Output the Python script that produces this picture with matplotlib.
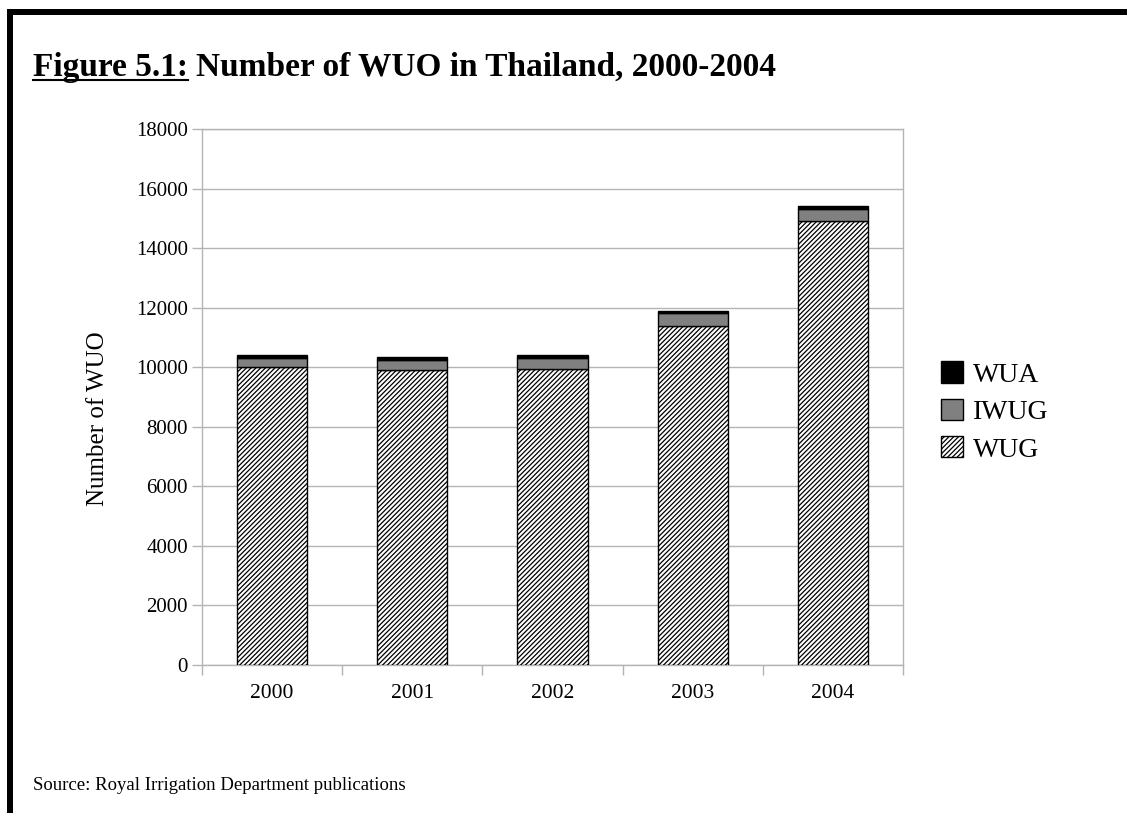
import numpy as np
import matplotlib
matplotlib.use("Agg")
import matplotlib.pyplot as plt
from matplotlib.patches import Patch, Rectangle
from matplotlib.lines import Line2D

# Water user organisations by type, 2000-2004
years = ["2000", "2001", "2002", "2003", "2004"]
wug = [10000, 9910, 9930, 11380, 14920]
iwug = [310, 325, 380, 430, 390]
wua = [110, 100, 100, 70, 110]

plt.rcParams["font.family"] = ["Liberation Serif", "DejaVu Serif"]
plt.rcParams["hatch.linewidth"] = 0.9
plt.rcParams["hatch.color"] = "#222222"

fig = plt.figure(figsize=(11.27, 8.13), dpi=100)
ax = fig.add_axes([202 / 1127, 1 - 665 / 813, 701 / 1127, 536 / 813])

x = np.arange(len(years))
w = 0.5
wug = np.array(wug)
iwug = np.array(iwug)
wua = np.array(wua)
hatch = "///////"

ax.bar(x, wug, w, color="white", edgecolor="black", hatch=hatch, linewidth=1, zorder=3)
ax.bar(x, iwug, w, bottom=wug, color="#808080", edgecolor="black", linewidth=1, zorder=3)
ax.bar(x, wua, w, bottom=wug + iwug, color="black", edgecolor="black", linewidth=1, zorder=3)

ax.set_xlim(-0.5, len(years) - 0.5)
ax.set_ylim(0, 18000)
ax.set_yticks(np.arange(0, 18001, 2000))
ax.yaxis.grid(True, color="#b4b4b4", linewidth=1, zorder=0)
ax.set_axisbelow(True)

# category labels centred, tick marks between categories
ax.set_xticks(x)
ax.set_xticklabels(years, fontsize=15.5)
ax.set_xticks(np.arange(-0.5, len(years)), minor=True)
ax.tick_params(axis="x", which="major", length=0, pad=14)
ax.tick_params(axis="x", which="minor", length=7, color="#b4b4b4", width=1)
ax.tick_params(axis="y", length=7, color="#b4b4b4", width=1, labelsize=15, pad=3)

for s in ax.spines.values():
    s.set_color("#b4b4b4")
    s.set_linewidth(1)

ax.set_ylabel("Number of WUO", fontsize=18)
ax.yaxis.set_label_coords(-0.132, 0.46)

handles = [
    Patch(facecolor="black", edgecolor="black", label="WUA"),
    Patch(facecolor="#808080", edgecolor="black", label="IWUG"),
    Patch(facecolor="white", edgecolor="black", hatch=hatch, label="WUG"),
]
fig.legend(handles=handles, loc="center left", bbox_to_anchor=(916 / 1127, 1 - 412 / 813),
           frameon=False, fontsize=20, handlelength=0.8, handleheight=0.8,
           handletextpad=0.35, labelspacing=0.4)

# title with underlined figure number
t1 = fig.text(33 / 1127, 1 - 76 / 813, "Figure 5.1:", fontsize=24, fontweight="bold",
              ha="left", va="baseline")
fig.canvas.draw()
bb = t1.get_window_extent()
fig.add_artist(Line2D([bb.x0 / 1127, bb.x1 / 1127], [1 - 80 / 813] * 2,
                      transform=fig.transFigure, color="black", linewidth=1.5))
fig.text(bb.x1 / 1127 + 8 / 1127, 1 - 76 / 813, "Number of WUO in Thailand, 2000-2004",
         fontsize=24, fontweight="bold", ha="left", va="baseline")

fig.text(33 / 1127, 1 - 790 / 813, "Source: Royal Irrigation Department publications",
         fontsize=13.5, ha="left", va="baseline")

# page border along top and left
fig.add_artist(Rectangle((7 / 1127, 1 - 15 / 813), 1, 6 / 813, transform=fig.transFigure,
                         facecolor="black", edgecolor="none"))
fig.add_artist(Rectangle((7 / 1127, 0), 6 / 1127, 1 - 9 / 813, transform=fig.transFigure,
                         facecolor="black", edgecolor="none"))

fig.savefig("out.png", dpi=100)
